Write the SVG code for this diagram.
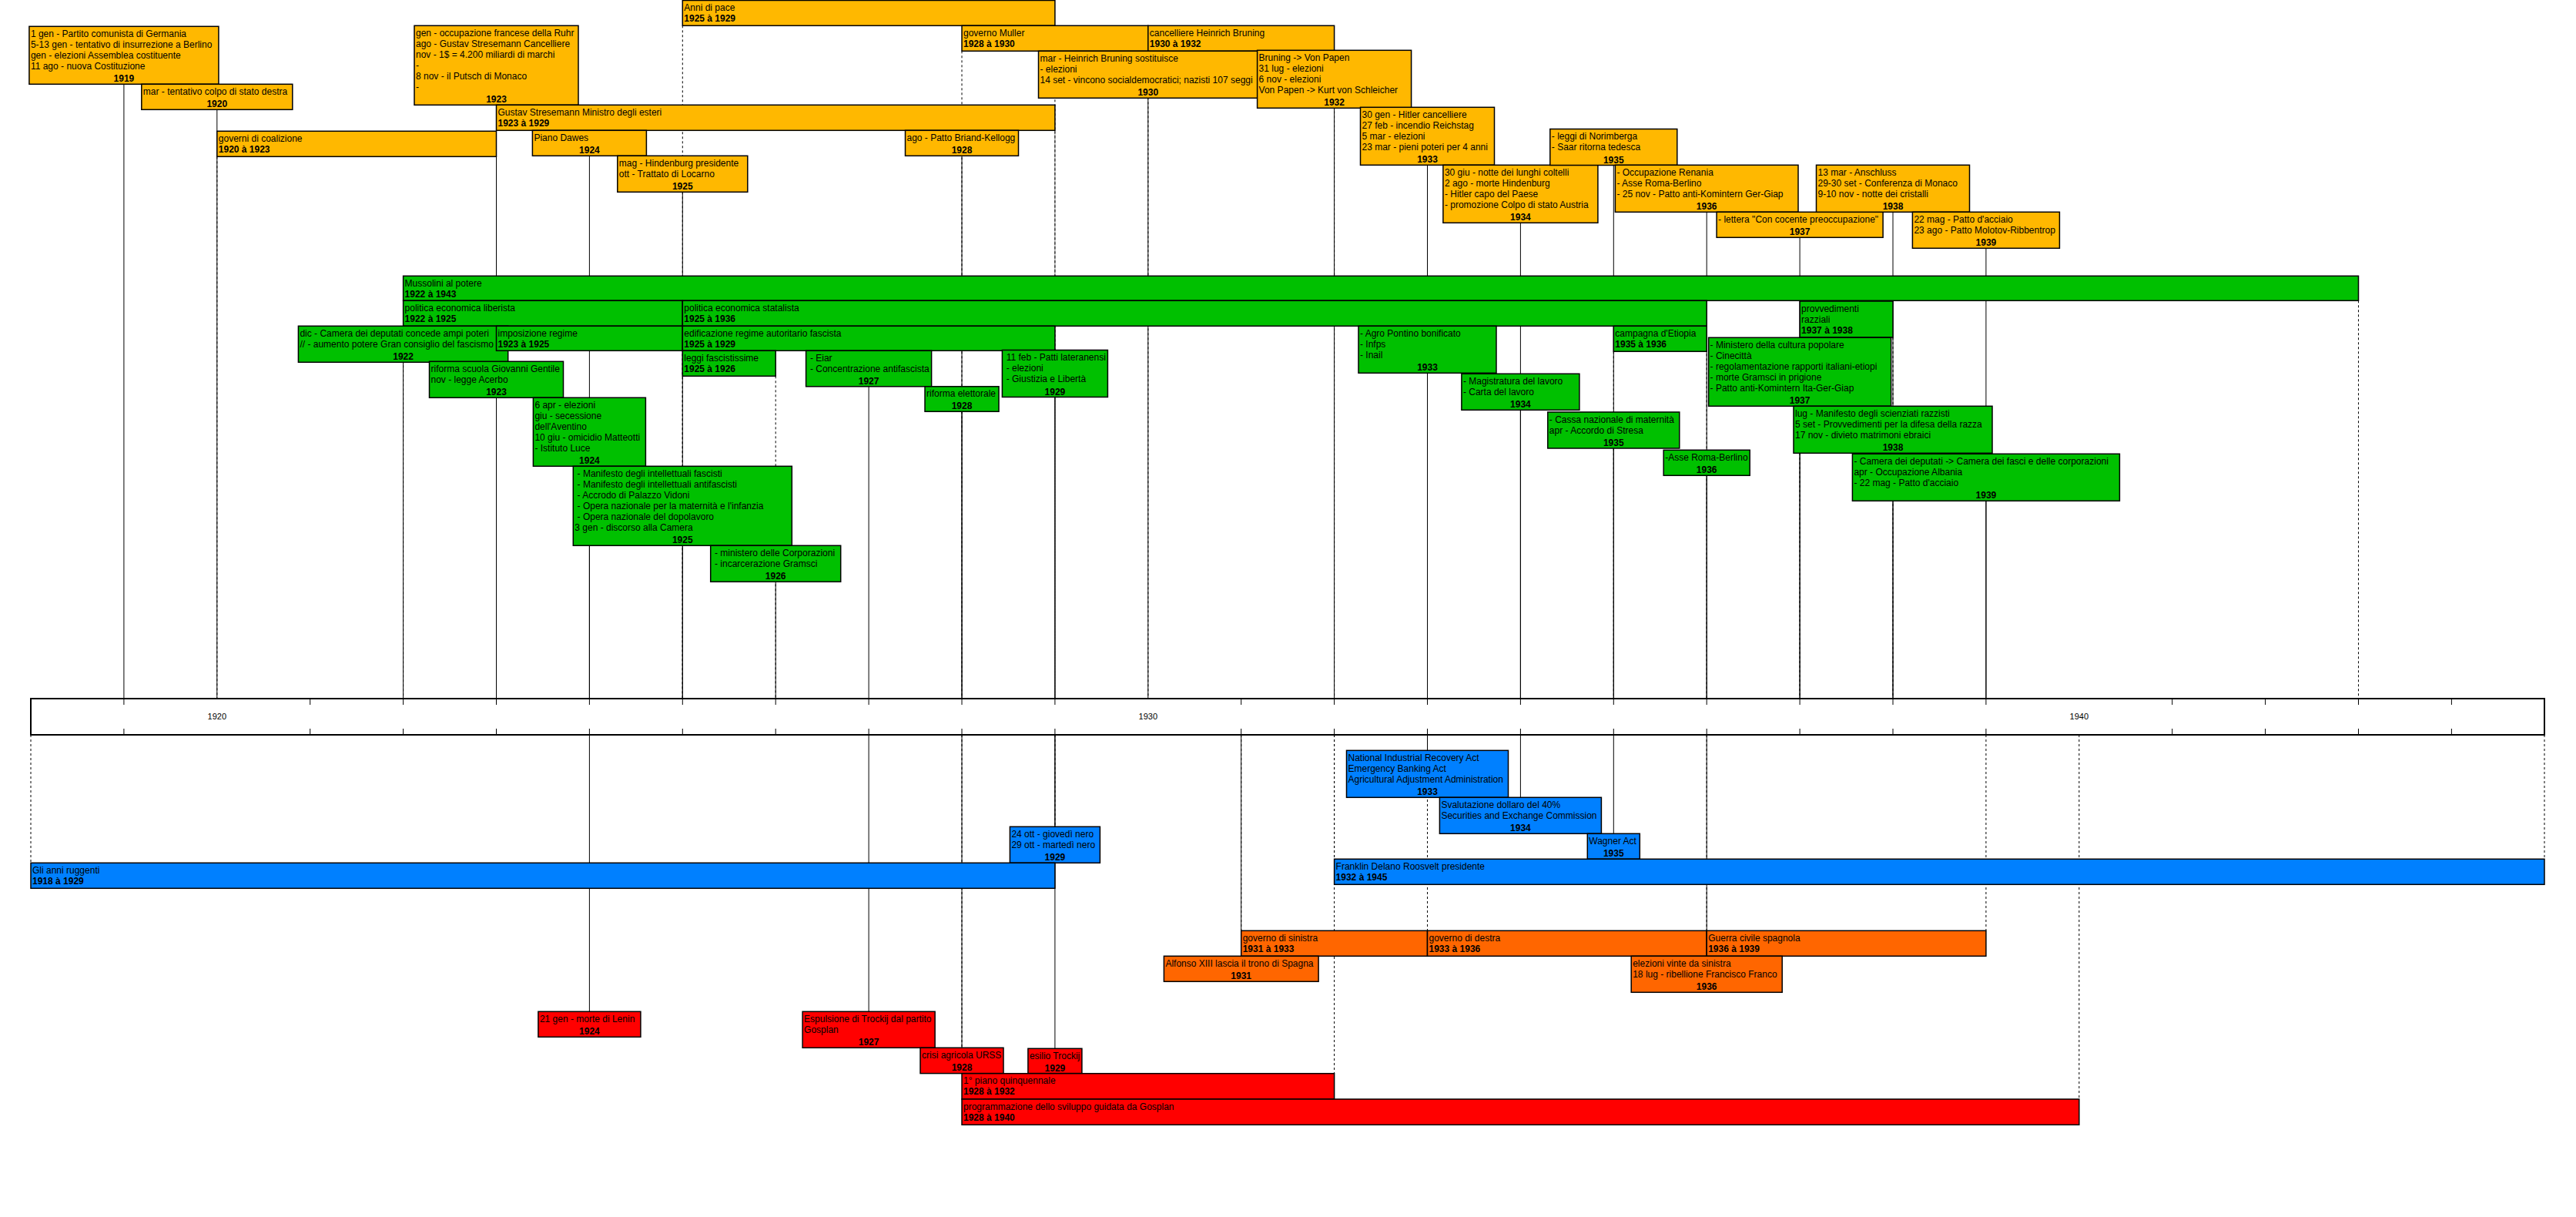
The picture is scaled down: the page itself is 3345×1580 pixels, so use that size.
<svg xmlns="http://www.w3.org/2000/svg" width="3345" height="1580" viewBox="0 0 3345 1580">
<style>
text{font-family:"Liberation Sans",Arial,sans-serif;font-size:12px;fill:#000}
.y{font-weight:bold}
.c{text-anchor:middle}
.b{stroke:#000;stroke-width:1.5}
.or{fill:#FFB800}.gr{fill:#00C000}.bl{fill:#0080FF}.oo{fill:#FF6600}.rd{fill:#FF0000}
.ln{stroke:#000;stroke-width:1;fill:none}
.ds{stroke-dasharray:3,3}
.ax{fill:#fff;stroke:#000;stroke-width:2}
.tk{stroke:#000;stroke-width:1}
.al{font-size:11px}
</style>
<rect width="3345" height="1580" fill="#fff"/>
<g id="connectors">
<path class="ln" d="M160.9 109.3V907M281.8 142.3V907M644.5 136.3V907M765.4 202.3V907M886.3 249.3V907M1249 202.3V907M1490.8 127.3V907M1732.6 140.3V907M1853.5 214.3V907M1974.4 289.3V907M2095.3 214.5V907M2216.2 275.3V907M2337.1 308.3V907M2458 275.3V907M2578.9 322.3V907"/>
<path class="ln" d="M523.6 470.3V907M644.5 516.3V907M765.4 605.3V907M886.3 708.3V907M1007.2 755.3V907M1128.1 501.8V907M1249 534.3V907M1369.9 515.5V907M1853.5 484.3V907M1974.4 532.3V907M2095.3 582V907M2216.2 617.3V907M2337.1 527.3V907M2458 588.3V907M2578.9 650.3V907"/>
<path class="ln ds" d="M281.8 203.3V907M644.5 203.3V907M644.5 169.3V907M1369.9 169.3V907M886.3 33.3V907M1369.9 33.3V907M1249 66.3V907M1490.8 66.3V907M1732.6 66.3V907"/>
<path class="ln ds" d="M523.6 390.3V907M3062.5 390.3V907M886.3 423.3V907M2216.2 423.3V907M644.5 455.3V907M1369.9 455.3V907M1007.2 488.3V907M2095.3 456.3V907M2337.1 438V907M2458 438V907"/>
<path class="ln" d="M1369.9 954V1073.3M1853.5 954V974.3M1974.4 954V1035.3M2095.3 954V1082.3M1611.7 954V1241.3M2216.2 954V1241.3M765.4 954V1313.3M1128.1 954V1313.3M1249 954V1360.3M1369.9 954V1361.3"/>
<path class="ln ds" d="M40 954V1120.3M1369.9 954V1120.3M1732.6 954V1115.3M3304 954V1115.3M1611.7 954V1208.3M1853.5 954V1208.3M2216.2 954V1208.3M2578.9 954V1208.3M1249 954V1393.7M1732.6 954V1393.7M2699.8 954V1427"/>
</g>
<g id="axis">
<rect class="ax" x="40" y="907" width="3264" height="47"/>
<path class="tk" d="M160.9 907v8M402.7 907v8M523.6 907v8M644.5 907v8M765.4 907v8M886.3 907v8M1007.2 907v8M1128.1 907v8M1249 907v8M1369.9 907v8M1611.7 907v8M1732.6 907v8M1853.5 907v8M1974.4 907v8M2095.3 907v8M2216.2 907v8M2337.1 907v8M2458 907v8M2578.9 907v8M2820.7 907v8M2941.6 907v8M3062.5 907v8M3183.4 907v8M160.9 954v-8M402.7 954v-8M523.6 954v-8M644.5 954v-8M765.4 954v-8M886.3 954v-8M1007.2 954v-8M1128.1 954v-8M1249 954v-8M1369.9 954v-8M1611.7 954v-8M1732.6 954v-8M1853.5 954v-8M1974.4 954v-8M2095.3 954v-8M2216.2 954v-8M2337.1 954v-8M2458 954v-8M2578.9 954v-8M2820.7 954v-8M2941.6 954v-8M3062.5 954v-8M3183.4 954v-8"/>
<text class="al c" x="281.8" y="934">1920</text>
<text class="al c" x="1490.8" y="934">1930</text>
<text class="al c" x="2699.8" y="934">1940</text>
</g>
<!-- Orange top -->
<g id="n1919"><rect class="or b" x="37.9" y="34.3" width="246" height="75"/><svg x="37.9" y="34.3" width="246" height="75"><text x="2" y="13.5">1 gen - Partito comunista di Germania</text><text x="2" y="27.5">5-13 gen - tentativo di insurrezione a Berlino</text><text x="2" y="41.5">gen - elezioni Assemblea costituente</text><text x="2" y="55.5">11 ago - nuova Costituzione</text><text class="y c" x="123" y="72">1919</text></svg></g>
<g id="n1920"><rect class="or b" x="183.8" y="109.3" width="196" height="33"/><svg x="183.8" y="109.3" width="196" height="33"><text x="2" y="13.5">mar - tentativo colpo di stato destra</text><text class="y c" x="98" y="30">1920</text></svg></g>
<g id="governi"><rect class="or b" x="281.8" y="170.3" width="362.7" height="33"/><svg x="281.8" y="170.3" width="362.7" height="33"><text x="2" y="13.5">governi di coalizione</text><text class="y" x="2" y="27.5">1920 à 1923</text></svg></g>
<g id="n1923"><rect class="or b" x="538" y="33.3" width="213" height="103"/><svg x="538" y="33.3" width="213" height="103"><text x="2" y="13.5">gen - occupazione francese della Ruhr</text><text x="2" y="27.5">ago - Gustav Stresemann Cancelliere</text><text x="2" y="41.5">nov - 1$ = 4.200 miliardi di marchi</text><text x="2" y="55.5">-</text><text x="2" y="69.5">8 nov - il Putsch di Monaco</text><text x="2" y="83.5">-</text><text class="y c" x="106.5" y="100">1923</text></svg></g>
<g id="gustav"><rect class="or b" x="644.5" y="136.3" width="725.4" height="33"/><svg x="644.5" y="136.3" width="725.4" height="33"><text x="2" y="13.5">Gustav Stresemann Ministro degli esteri</text><text class="y" x="2" y="27.5">1923 à 1929</text></svg></g>
<g id="annipace"><rect class="or b" x="886.3" y="0.5" width="483.6" height="32.8"/><svg x="886.3" y="0.5" width="483.6" height="32.8"><text x="2" y="13.3">Anni di pace</text><text class="y" x="2" y="27.3">1925 à 1929</text></svg></g>
<g id="dawes"><rect class="or b" x="691.4" y="169.3" width="148" height="33"/><svg x="691.4" y="169.3" width="148" height="33"><text x="2" y="13.5">Piano Dawes</text><text class="y c" x="74" y="30">1924</text></svg></g>
<g id="n1925o"><rect class="or b" x="801.8" y="202.3" width="169" height="47"/><svg x="801.8" y="202.3" width="169" height="47"><text x="2" y="13.5">mag - Hindenburg presidente</text><text x="2" y="27.5">ott - Trattato di Locarno</text><text class="y c" x="84.5" y="44">1925</text></svg></g>
<g id="briand"><rect class="or b" x="1175.5" y="169.3" width="147" height="33"/><svg x="1175.5" y="169.3" width="147" height="33"><text x="2" y="13.5">ago - Patto Briand-Kellogg</text><text class="y c" x="73.5" y="30">1928</text></svg></g>
<g id="muller"><rect class="or b" x="1249" y="33.3" width="241.8" height="33"/><svg x="1249" y="33.3" width="241.8" height="33"><text x="2" y="13.5">governo Muller</text><text class="y" x="2" y="27.5">1928 à 1930</text></svg></g>
<g id="bruning"><rect class="or b" x="1490.8" y="33.3" width="241.8" height="33"/><svg x="1490.8" y="33.3" width="241.8" height="33"><text x="2" y="13.5">cancelliere Heinrich Bruning</text><text class="y" x="2" y="27.5">1930 à 1932</text></svg></g>
<g id="n1930"><rect class="or b" x="1348.5" y="66.3" width="284.6" height="61"/><svg x="1348.5" y="66.3" width="284.6" height="61"><text x="2" y="13.5">mar - Heinrich Bruning sostituisce</text><text x="2" y="27.5">- elezioni</text><text x="2" y="41.5">14 set - vincono socialdemocratici; nazisti 107 seggi</text><text class="y c" x="142.3" y="58">1930</text></svg></g>
<g id="n1932"><rect class="or b" x="1632.6" y="65.3" width="200" height="75"/><svg x="1632.6" y="65.3" width="200" height="75"><text x="2" y="13.5">Bruning -&gt; Von Papen</text><text x="2" y="27.5">31 lug - elezioni</text><text x="2" y="41.5">6 nov - elezioni</text><text x="2" y="55.5">Von Papen -&gt; Kurt von Schleicher</text><text class="y c" x="100" y="72">1932</text></svg></g>
<g id="n1933o"><rect class="or b" x="1766.5" y="139.3" width="174" height="75"/><svg x="1766.5" y="139.3" width="174" height="75"><text x="2" y="13.5">30 gen - Hitler cancelliere</text><text x="2" y="27.5">27 feb - incendio Reichstag</text><text x="2" y="41.5">5 mar - elezioni</text><text x="2" y="55.5">23 mar - pieni poteri per 4 anni</text><text class="y c" x="87" y="72">1933</text></svg></g>
<g id="n1934o"><rect class="or b" x="1873.9" y="214.3" width="201" height="75"/><svg x="1873.9" y="214.3" width="201" height="75"><text x="2" y="13.5">30 giu - notte dei lunghi coltelli</text><text x="2" y="27.5">2 ago - morte Hindenburg</text><text x="2" y="41.5">- Hitler capo del Paese</text><text x="2" y="55.5">- promozione Colpo di stato Austria</text><text class="y c" x="100.5" y="72">1934</text></svg></g>
<g id="n1935o"><rect class="or b" x="2012.8" y="167.5" width="165" height="47"/><svg x="2012.8" y="167.5" width="165" height="47"><text x="2" y="13.5">- leggi di Norimberga</text><text x="2" y="27.5">- Saar ritorna tedesca</text><text class="y c" x="82.5" y="44">1935</text></svg></g>
<g id="n1936o"><rect class="or b" x="2097.4" y="214.3" width="237.6" height="61"/><svg x="2097.4" y="214.3" width="237.6" height="61"><text x="2" y="13.5">- Occupazione Renania</text><text x="2" y="27.5">- Asse Roma-Berlino</text><text x="2" y="41.5">- 25 nov - Patto anti-Komintern Ger-Giap</text><text class="y c" x="118.8" y="58">1936</text></svg></g>
<g id="n1937o"><rect class="or b" x="2229.1" y="275.3" width="216" height="33"/><svg x="2229.1" y="275.3" width="216" height="33"><text x="2" y="13.5">- lettera "Con cocente preoccupazione"</text><text class="y c" x="108" y="30">1937</text></svg></g>
<g id="n1938o"><rect class="or b" x="2358.5" y="214.3" width="199" height="61"/><svg x="2358.5" y="214.3" width="199" height="61"><text x="2" y="13.5">13 mar - Anschluss</text><text x="2" y="27.5">29-30 set - Conferenza di Monaco</text><text x="2" y="41.5">9-10 nov - notte dei cristalli</text><text class="y c" x="99.5" y="58">1938</text></svg></g>
<g id="n1939o"><rect class="or b" x="2483.4" y="275.3" width="191" height="47"/><svg x="2483.4" y="275.3" width="191" height="47"><text x="2" y="13.5">22 mag - Patto d'acciaio</text><text x="2" y="27.5">23 ago - Patto Molotov-Ribbentrop</text><text class="y c" x="95.5" y="44">1939</text></svg></g>
<!-- Green -->
<g id="mussolini"><rect class="gr b" x="523.6" y="358.3" width="2538.9" height="32"/><svg x="523.6" y="358.3" width="2538.9" height="32"><text x="2" y="13.5">Mussolini al potere</text><text class="y" x="2" y="27.5">1922 à 1943</text></svg></g>
<g id="liberista"><rect class="gr b" x="523.6" y="390.3" width="362.7" height="33"/><svg x="523.6" y="390.3" width="362.7" height="33"><text x="2" y="13.5">politica economica liberista</text><text class="y" x="2" y="27.5">1922 à 1925</text></svg></g>
<g id="statalista"><rect class="gr b" x="886.3" y="390.3" width="1329.9" height="33"/><svg x="886.3" y="390.3" width="1329.9" height="33"><text x="2" y="13.5">politica economica statalista</text><text class="y" x="2" y="27.5">1925 à 1936</text></svg></g>
<g id="g1922"><rect class="gr b" x="387.4" y="423.3" width="272.3" height="47"/><svg x="387.4" y="423.3" width="272.3" height="47"><text x="2" y="13.5">dic - Camera dei deputati concede ampi poteri</text><text x="2" y="27.5">// - aumento potere Gran consiglio del fascismo</text><text class="y c" x="136.2" y="44">1922</text></svg></g>
<g id="imposizione"><rect class="gr b" x="644.5" y="423.3" width="241.8" height="32"/><svg x="644.5" y="423.3" width="241.8" height="32"><text x="2" y="13.5">imposizione regime</text><text class="y" x="2" y="27.5">1923 à 1925</text></svg></g>
<g id="edificazione"><rect class="gr b" x="886.3" y="423.3" width="483.6" height="32"/><svg x="886.3" y="423.3" width="483.6" height="32"><text x="2" y="13.5">edificazione regime autoritario fascista</text><text class="y" x="2" y="27.5">1925 à 1929</text></svg></g>
<g id="g1923"><rect class="gr b" x="557.5" y="469.3" width="174" height="47"/><svg x="557.5" y="469.3" width="174" height="47"><text x="2" y="13.5">riforma scuola Giovanni Gentile</text><text x="2" y="27.5">nov - legge Acerbo</text><text class="y c" x="87" y="44">1923</text></svg></g>
<g id="g1924"><rect class="gr b" x="692.4" y="516.3" width="146" height="89"/><svg x="692.4" y="516.3" width="146" height="89"><text x="2" y="13.5">6 apr - elezioni</text><text x="2" y="27.5">giu - secessione</text><text x="2" y="41.5">dell'Aventino</text><text x="2" y="55.5">10 giu - omicidio Matteotti</text><text x="2" y="69.5">- Istituto Luce</text><text class="y c" x="73" y="86">1924</text></svg></g>
<g id="fascistissime"><rect class="gr b" x="886.3" y="455.3" width="120.9" height="33"/><svg x="886.3" y="455.3" width="120.9" height="33"><text x="2" y="13.5">leggi fascistissime</text><text class="y" x="2" y="27.5">1925 à 1926</text></svg></g>
<g id="g1925"><rect class="gr b" x="744.3" y="605.3" width="284" height="103"/><svg x="744.3" y="605.3" width="284" height="103"><text x="5.3" y="13.5">- Manifesto degli intellettuali fascisti</text><text x="5.3" y="27.5">- Manifesto degli intellettuali antifascisti</text><text x="5.3" y="41.5">- Accrodo di Palazzo Vidoni</text><text x="5.3" y="55.5">- Opera nazionale per la maternità e l'infanzia</text><text x="5.3" y="69.5">- Opera nazionale del dopolavoro</text><text x="2" y="83.5">3 gen - discorso alla Camera</text><text class="y c" x="142" y="100">1925</text></svg></g>
<g id="g1926"><rect class="gr b" x="922.7" y="708.3" width="169" height="47"/><svg x="922.7" y="708.3" width="169" height="47"><text x="5.3" y="13.5">- ministero delle Corporazioni</text><text x="5.3" y="27.5">- incarcerazione Gramsci</text><text class="y c" x="84.5" y="44">1926</text></svg></g>
<g id="g1927"><rect class="gr b" x="1046.6" y="455.3" width="163" height="46.5"/><svg x="1046.6" y="455.3" width="163" height="46.5"><text x="5.3" y="13.5">- Eiar</text><text x="5.3" y="27.5">- Concentrazione antifascista</text><text class="y c" x="81.5" y="43.5">1927</text></svg></g>
<g id="g1928"><rect class="gr b" x="1201" y="501.8" width="96" height="32.5"/><svg x="1201" y="501.8" width="96" height="32.5"><text x="2" y="13.5">riforma elettorale</text><text class="y c" x="48" y="29.5">1928</text></svg></g>
<g id="g1929"><rect class="gr b" x="1301.4" y="454.5" width="137" height="61"/><svg x="1301.4" y="454.5" width="137" height="61"><text x="5.3" y="13.5">11 feb - Patti lateranensi</text><text x="5.3" y="27.5">- elezioni</text><text x="5.3" y="41.5">- Giustizia e Libertà</text><text class="y c" x="68.5" y="58">1929</text></svg></g>
<g id="g1933"><rect class="gr b" x="1764" y="423.3" width="179" height="61"/><svg x="1764" y="423.3" width="179" height="61"><text x="2" y="13.5">- Agro Pontino bonificato</text><text x="2" y="27.5">- Infps</text><text x="2" y="41.5">- Inail</text><text class="y c" x="89.5" y="58">1933</text></svg></g>
<g id="etiopia"><rect class="gr b" x="2095.3" y="423.3" width="120.9" height="33"/><svg x="2095.3" y="423.3" width="120.9" height="33"><text x="2" y="13.5">campagna d'Etiopia</text><text class="y" x="2" y="27.5">1935 à 1936</text></svg></g>
<g id="provvedimenti"><rect class="gr b" x="2337.1" y="391" width="120.9" height="47"/><svg x="2337.1" y="391" width="120.9" height="47"><text x="2" y="13.5">provvedimenti</text><text x="2" y="27.5">razziali</text><text class="y" x="2" y="41.5">1937 à 1938</text></svg></g>
<g id="g1937"><rect class="gr b" x="2218.6" y="438.3" width="237" height="89"/><svg x="2218.6" y="438.3" width="237" height="89"><text x="2" y="13.5">- Ministero della cultura popolare</text><text x="2" y="27.5">- Cinecittà</text><text x="2" y="41.5">- regolamentazione rapporti italiani-etiopi</text><text x="2" y="55.5">- morte Gramsci in prigione</text><text x="2" y="69.5">- Patto anti-Komintern Ita-Ger-Giap</text><text class="y c" x="118.5" y="86">1937</text></svg></g>
<g id="g1934"><rect class="gr b" x="1897.9" y="485.3" width="153" height="47"/><svg x="1897.9" y="485.3" width="153" height="47"><text x="2" y="13.5">- Magistratura del lavoro</text><text x="2" y="27.5">- Carta del lavoro</text><text class="y c" x="76.5" y="44">1934</text></svg></g>
<g id="g1935"><rect class="gr b" x="2009.8" y="535" width="171" height="47"/><svg x="2009.8" y="535" width="171" height="47"><text x="2" y="13.5">- Cassa nazionale di maternità</text><text x="2" y="27.5">apr - Accordo di Stresa</text><text class="y c" x="85.5" y="44">1935</text></svg></g>
<g id="g1936"><rect class="gr b" x="2160.2" y="584.3" width="112" height="33"/><svg x="2160.2" y="584.3" width="112" height="33"><text x="2" y="13.5">-Asse Roma-Berlino</text><text class="y c" x="56" y="30">1936</text></svg></g>
<g id="g1938"><rect class="gr b" x="2329" y="527.3" width="258" height="61"/><svg x="2329" y="527.3" width="258" height="61"><text x="2" y="13.5">lug - Manifesto degli scienziati razzisti</text><text x="2" y="27.5">5 set - Provvedimenti per la difesa della razza</text><text x="2" y="41.5">17 nov - divieto matrimoni ebraici</text><text class="y c" x="129" y="58">1938</text></svg></g>
<g id="g1939"><rect class="gr b" x="2405.4" y="589.3" width="347" height="61"/><svg x="2405.4" y="589.3" width="347" height="61"><text x="2" y="13.5">- Camera dei deputati -&gt; Camera dei fasci e delle corporazioni</text><text x="2" y="27.5">apr - Occupazione Albania</text><text x="2" y="41.5">- 22 mag - Patto d'acciaio</text><text class="y c" x="173.5" y="58">1939</text></svg></g>
<!-- Blue -->
<g id="b1929"><rect class="bl b" x="1311.4" y="1073.3" width="117" height="47"/><svg x="1311.4" y="1073.3" width="117" height="47"><text x="2" y="13.5">24 ott - giovedì nero</text><text x="2" y="27.5">29 ott - martedì nero</text><text class="y c" x="58.5" y="44">1929</text></svg></g>
<g id="ruggenti"><rect class="bl b" x="40" y="1120.3" width="1329.9" height="33"/><svg x="40" y="1120.3" width="1329.9" height="33"><text x="2" y="13.5">Gli anni ruggenti</text><text class="y" x="2" y="27.5">1918 à 1929</text></svg></g>
<g id="b1933"><rect class="bl b" x="1748.5" y="974.3" width="210" height="61"/><svg x="1748.5" y="974.3" width="210" height="61"><text x="2" y="13.5">National Industrial Recovery Act</text><text x="2" y="27.5">Emergency Banking Act</text><text x="2" y="41.5">Agricultural Adjustment Administration</text><text class="y c" x="105" y="58">1933</text></svg></g>
<g id="b1934"><rect class="bl b" x="1869.4" y="1035.3" width="210" height="47"/><svg x="1869.4" y="1035.3" width="210" height="47"><text x="2" y="13.5">Svalutazione dollaro del 40%</text><text x="2" y="27.5">Securities and Exchange Commission</text><text class="y c" x="105" y="44">1934</text></svg></g>
<g id="b1935"><rect class="bl b" x="2061.3" y="1082.3" width="68" height="33"/><svg x="2061.3" y="1082.3" width="68" height="33"><text x="2" y="13.5">Wagner Act</text><text class="y c" x="34" y="30">1935</text></svg></g>
<g id="roosvelt"><rect class="bl b" x="1732.6" y="1115.3" width="1571.4" height="33"/><svg x="1732.6" y="1115.3" width="1571.4" height="33"><text x="2" y="13.5">Franklin Delano Roosvelt presidente</text><text class="y" x="2" y="27.5">1932 à 1945</text></svg></g>
<!-- Orange lower -->
<g id="sinistra"><rect class="oo b" x="1611.7" y="1208.3" width="241.8" height="33"/><svg x="1611.7" y="1208.3" width="241.8" height="33"><text x="2" y="13.5">governo di sinistra</text><text class="y" x="2" y="27.5">1931 à 1933</text></svg></g>
<g id="destra"><rect class="oo b" x="1853.5" y="1208.3" width="362.7" height="33"/><svg x="1853.5" y="1208.3" width="362.7" height="33"><text x="2" y="13.5">governo di destra</text><text class="y" x="2" y="27.5">1933 à 1936</text></svg></g>
<g id="guerra"><rect class="oo b" x="2216.2" y="1208.3" width="362.7" height="33"/><svg x="2216.2" y="1208.3" width="362.7" height="33"><text x="2" y="13.5">Guerra civile spagnola</text><text class="y" x="2" y="27.5">1936 à 1939</text></svg></g>
<g id="s1931"><rect class="oo b" x="1511.4" y="1241.3" width="200.7" height="33"/><svg x="1511.4" y="1241.3" width="200.7" height="33"><text x="2" y="13.5">Alfonso XIII lascia il trono di Spagna</text><text class="y c" x="100.3" y="30">1931</text></svg></g>
<g id="s1936"><rect class="oo b" x="2118.2" y="1241.3" width="196" height="47"/><svg x="2118.2" y="1241.3" width="196" height="47"><text x="2" y="13.5">elezioni vinte da sinistra</text><text x="2" y="27.5">18 lug - ribellione Francisco Franco</text><text class="y c" x="98" y="44">1936</text></svg></g>
<!-- Red -->
<g id="r1924"><rect class="rd b" x="698.9" y="1313.3" width="133" height="33"/><svg x="698.9" y="1313.3" width="133" height="33"><text x="2" y="13.5">21 gen - morte di Lenin</text><text class="y c" x="66.5" y="30">1924</text></svg></g>
<g id="r1927"><rect class="rd b" x="1042.1" y="1313.3" width="172" height="47"/><svg x="1042.1" y="1313.3" width="172" height="47"><text x="2" y="13.5">Espulsione di Trockij dal partito</text><text x="2" y="27.5">Gosplan</text><text class="y c" x="86" y="44">1927</text></svg></g>
<g id="r1928"><rect class="rd b" x="1195" y="1360.3" width="108" height="33.3"/><svg x="1195" y="1360.3" width="108" height="33.3"><text x="2" y="13.5">crisi agricola URSS</text><text class="y c" x="54" y="30">1928</text></svg></g>
<g id="r1929"><rect class="rd b" x="1334.9" y="1361.3" width="70" height="32.3"/><svg x="1334.9" y="1361.3" width="70" height="32.3"><text x="2" y="13.5">esilio Trockij</text><text class="y c" x="35" y="29.5">1929</text></svg></g>
<g id="piano"><rect class="rd b" x="1249" y="1393.7" width="483.6" height="33.3"/><svg x="1249" y="1393.7" width="483.6" height="33.3"><text x="2" y="13.5">1° piano quinquennale</text><text class="y" x="2" y="27.5">1928 à 1932</text></svg></g>
<g id="gosplan"><rect class="rd b" x="1249" y="1427" width="1450.8" height="33.3"/><svg x="1249" y="1427" width="1450.8" height="33.3"><text x="2" y="13.5">programmazione dello sviluppo guidata da Gosplan</text><text class="y" x="2" y="27.5">1928 à 1940</text></svg></g>
</svg>
